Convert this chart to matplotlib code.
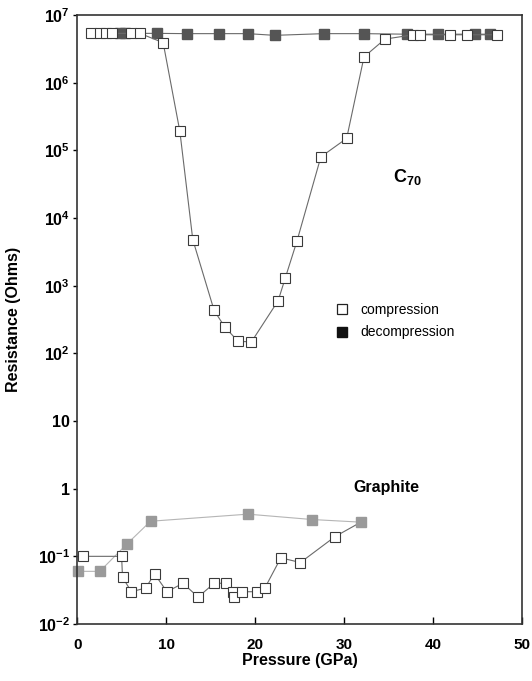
import numpy as np
import matplotlib
matplotlib.use("Agg")
import matplotlib.pyplot as plt
from matplotlib.ticker import FixedLocator, FuncFormatter
from matplotlib.lines import Line2D

plt.rcParams["font.family"] = ["Liberation Sans", "DejaVu Sans"]
plt.rcParams["font.weight"] = "bold"
plt.rcParams["mathtext.fontset"] = "custom"
plt.rcParams["mathtext.rm"] = "Liberation Sans:bold"
plt.rcParams["mathtext.bf"] = "Liberation Sans:bold"
plt.rcParams["mathtext.it"] = "Liberation Sans:bold"

# ─── DATA ────────────────────────────────────────────────────────────────────
# C70 compression (open squares)
c70_comp_p = [1.6, 2.55, 3.3, 3.9, 6.1, 7.05, 9.67, 11.55, 13.0, 15.4, 16.6, 18.1,
              19.6, 22.6, 23.4, 24.7, 27.4, 30.3, 32.25, 34.6, 37.8, 38.5, 41.9,
              43.8, 47.2]
c70_comp_r = [5.35e6, 5.35e6, 5.35e6, 5.35e6, 5.35e6, 5.35e6, 3.9e6, 1.9e5, 4.8e3,
              430, 245, 150, 148, 600, 1.3e3, 4.5e3, 8.0e4, 1.5e5, 2.4e6, 4.4e6,
              5.1e6, 5.1e6, 5.1e6, 5.1e6, 5.1e6]

# C70 decompression (filled squares)
c70_dec_p = [46.4, 44.7, 40.6, 37.05, 32.2, 27.7, 22.2, 19.2, 16.0, 12.3, 8.93, 5.4, 4.8]
c70_dec_r = [5.2e6, 5.2e6, 5.2e6, 5.2e6, 5.3e6, 5.3e6, 5.0e6, 5.3e6, 5.3e6, 5.3e6,
             5.35e6, 5.35e6, 5.35e6]

# Graphite compression (open squares)
gr_comp_p = [0.7, 5.0, 5.1, 6.1, 7.7, 8.7, 10.1, 11.9, 13.6, 15.4, 16.7, 17.5, 17.6,
             18.5, 20.2, 21.1, 22.9, 25.1, 29.0, 31.9]
gr_comp_r = [0.1, 0.1, 0.049, 0.030, 0.034, 0.055, 0.030, 0.040, 0.025, 0.040, 0.040,
             0.030, 0.025, 0.030, 0.030, 0.034, 0.095, 0.081, 0.196, 0.32]

# Graphite decompression (grey filled squares)
gr_dec_p = [31.9, 26.4, 19.2, 8.25, 5.55, 2.55, 0.1]
gr_dec_r = [0.32, 0.35, 0.42, 0.33, 0.15, 0.060, 0.060]

y_ticks = [1e-2, 1e-1, 1, 10, 1e2, 1e3, 1e4, 1e5, 1e6, 1e7]
x_ticks = [0, 10, 20, 30, 40, 50]

# ─── STYLE ───────────────────────────────────────────────────────────────────
EDGE = "#3a3a3a"
DARK_FILL = "#555555"
GREY_FILL = "#9a9a9a"
LINE = "#6a6a6a"
LIGHT_LINE = "#b5b5b5"


def fmt_y(v, _):
    e = int(round(np.log10(v)))
    if e == 0:
        return "1"
    if e == 1:
        return "10"
    return rf"$10^{{{e}}}$"


fig = plt.figure(figsize=(5.32, 6.81), dpi=100)
ax = fig.add_axes([0.145, 0.0837, 0.836, 0.8943])

ms = 6.5
ax.plot(c70_dec_p, c70_dec_r, "-", color=LINE, lw=0.8, marker="s", ms=ms,
        mfc=DARK_FILL, mec=DARK_FILL, zorder=2)
ax.plot(c70_comp_p, c70_comp_r, "-", color=LINE, lw=0.8, marker="s", ms=ms,
        mfc="white", mec=EDGE, mew=0.8, zorder=3)

ax.plot(gr_dec_p, gr_dec_r, "-", color=LIGHT_LINE, lw=0.8, marker="s", ms=ms,
        mfc=GREY_FILL, mec=GREY_FILL, zorder=2, clip_on=False)
ax.plot(gr_comp_p[:-1], gr_comp_r[:-1], "-", color=LINE, lw=0.8, marker="s", ms=ms,
        mfc="white", mec=EDGE, mew=0.8, zorder=3, clip_on=False)
ax.plot(gr_comp_p[-2:], gr_comp_r[-2:], "-", color=LINE, lw=0.8, zorder=1)

ax.set_yscale("log")
ax.set_xlim(0, 50)
ax.set_ylim(1e-2, 1e7)
ax.yaxis.set_major_locator(FixedLocator(y_ticks))
ax.yaxis.set_major_formatter(FuncFormatter(fmt_y))
ax.yaxis.set_minor_locator(FixedLocator([]))
ax.xaxis.set_major_locator(FixedLocator(x_ticks))

ax.tick_params(axis="x", direction="in", length=5, width=1, labelsize=11, pad=10)
ax.tick_params(axis="y", direction="out", length=3, width=1, labelsize=11.5, pad=2)
for sp in ax.spines.values():
    sp.set_color("#333333")
    sp.set_linewidth(1.2)

ax.set_xlabel("Pressure (GPa)", fontsize=11.5, fontweight="bold", labelpad=1)
ax.set_ylabel("Resistance (Ohms)", fontsize=11.5, fontweight="bold", labelpad=12)

ax.text(35.5, 4e4, r"C$_{70}$", fontsize=13, fontweight="bold", ha="left", va="center")
ax.text(31.0, 1.05, "Graphite", fontsize=11.5, fontweight="bold", ha="left", va="center")

handles = [
    Line2D([], [], ls="none", marker="s", ms=7, mfc="white", mec="#222222", mew=0.9),
    Line2D([], [], ls="none", marker="s", ms=7, mfc="#111111", mec="#111111"),
]
leg = ax.legend(handles, ["compression", "decompression"], loc="center left",
                bbox_to_anchor=(0.536, 0.497), frameon=False, handletextpad=0.3,
                prop={"size": 10, "weight": "normal"}, labelspacing=0.6)

fig.savefig("out.png", dpi=100)
